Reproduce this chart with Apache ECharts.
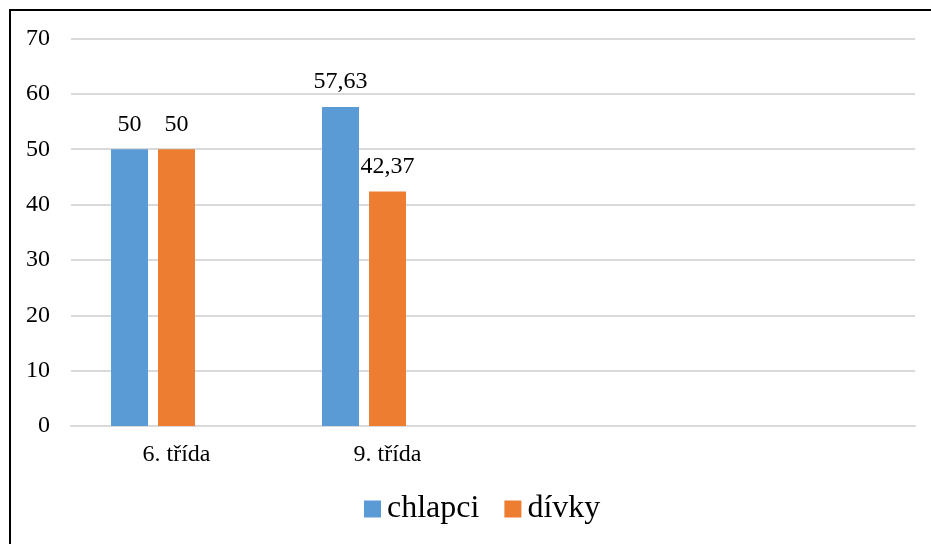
<!DOCTYPE html>
<html>
<head>
<meta charset="utf-8">
<script src="https://cdn.jsdelivr.net/npm/echarts@6/dist/echarts.min.js"></script>
<style>
  html, body { margin: 0; padding: 0; background: #fff; }
  #chart { width: 931px; height: 544px; }
</style>
</head>
<body>
<div id="chart"></div>
<script>
// Categories (the two trailing slots are empty columns kept in the layout)
const categories = ['6. třída', '9. třída', '', ''];
const chlapci = [50, 57.63, null, null];
const divky = [50, 42.37, null, null];
// Third slot in each cluster is left empty
const prazdne = [null, null, null, null];
const yTicks = { min: 0, max: 70, interval: 10 };

const FONT = '"Liberation Serif", "Times New Roman", serif';

// Czech-style decimal comma for value labels
const fmt = p => String(p.value).replace('.', ',');

const valueLabel = {
  show: true, position: 'top', distance: 13,
  fontFamily: FONT, fontSize: 24, color: '#000',
  formatter: fmt
};

const chart = echarts.init(document.getElementById('chart'), null, { renderer: 'canvas' });

chart.setOption({
  backgroundColor: '#ffffff',
  animation: false,
  textStyle: { fontFamily: FONT, color: '#000' },
  grid: { left: 71, right: 16, top: 38.5, bottom: 118, containLabel: false },
  xAxis: {
    type: 'category',
    data: categories,
    axisLine: { lineStyle: { color: '#d9d9d9', width: 2 } },
    axisTick: { show: false },
    axisLabel: { fontFamily: FONT, fontSize: 24, color: '#000', margin: 17 },
    splitLine: { show: false }
  },
  yAxis: {
    type: 'value',
    min: yTicks.min,
    max: yTicks.max,
    interval: yTicks.interval,
    axisLine: { show: false },
    axisTick: { show: false },
    axisLabel: { fontFamily: FONT, fontSize: 24, color: '#000', margin: 21 },
    splitLine: { lineStyle: { color: '#d9d9d9', width: 2 } }
  },
  legend: {
    top: 493,
    left: 364,
    itemWidth: 17,
    itemHeight: 17,
    itemGap: 25,
    icon: 'rect',
    padding: 0,
    textStyle: { fontFamily: FONT, fontSize: 32, color: '#000', padding: [0, 0, 0, 1] },
    data: ['chlapci', 'dívky']
  },
  series: [
    {
      name: 'chlapci',
      type: 'bar',
      data: chlapci,
      barWidth: 37,
      barGap: '27%',
      itemStyle: { color: '#5b9bd5' },
      label: valueLabel
    },
    {
      name: 'dívky',
      type: 'bar',
      data: divky,
      barWidth: 37,
      barGap: '27%',
      itemStyle: { color: '#ed7d31' },
      label: valueLabel
    },
    {
      name: 'prázdné',
      type: 'bar',
      data: prazdne,
      barWidth: 37,
      barGap: '27%',
      itemStyle: { color: '#a5a5a5' }
    }
  ],
  graphic: [
    {
      type: 'rect',
      shape: { x: 10, y: 10, width: 940, height: 560 },
      style: { fill: 'none', stroke: '#000', lineWidth: 2 },
      silent: true
    }
  ]
});
</script>
</body>
</html>
